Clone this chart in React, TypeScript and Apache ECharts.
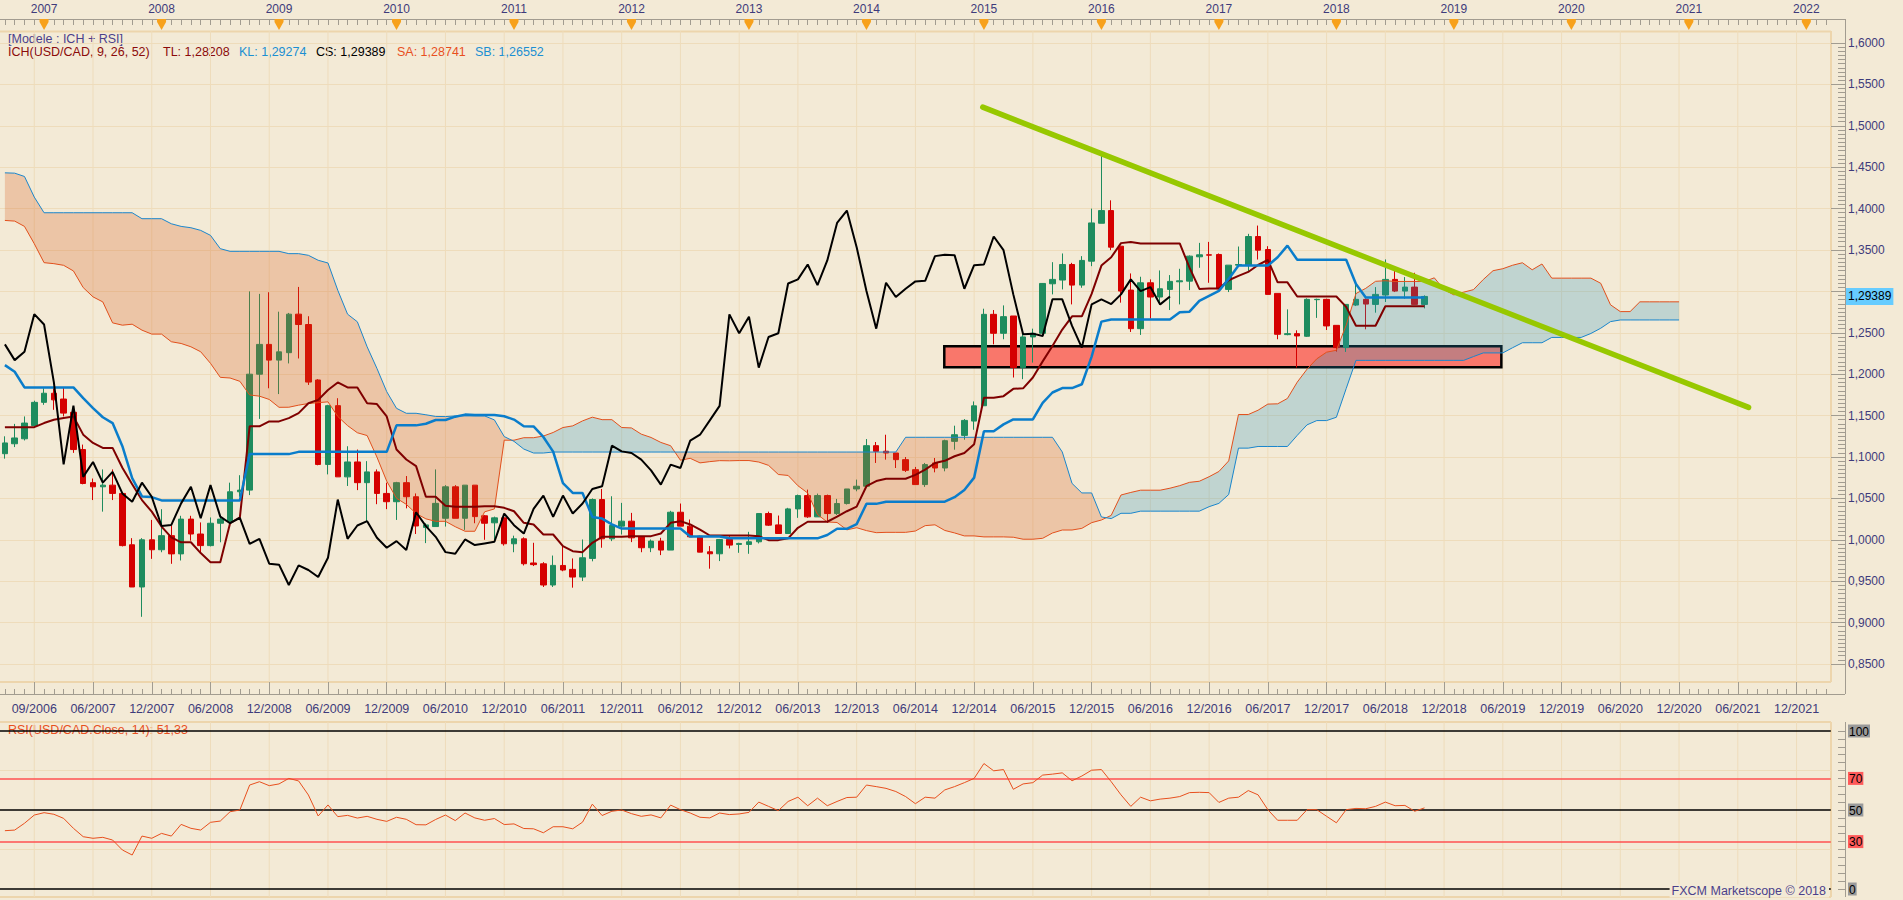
import React, { useEffect, useRef } from "react";
import * as echarts from "echarts";

// month index 0 = 12/2006 ; first candle = 09/2006 (-3) ; axis runs to 03/2022 (183)
const FIRST_MONTH = -3;
const LAST_MONTH = 183;

const yearLabels = ["2007", "2008", "2009", "2010", "2011", "2012", "2013", "2014", "2015", "2016", "2017", "2018", "2019", "2020", "2021", "2022"];
const dateLabels = ["09/2006", "06/2007", "12/2007", "06/2008", "12/2008", "06/2009", "12/2009", "06/2010", "12/2010", "06/2011", "12/2011", "06/2012", "12/2012", "06/2013", "12/2013", "06/2014", "12/2014", "06/2015", "12/2015", "06/2016", "12/2016", "06/2017", "12/2017", "06/2018", "12/2018", "06/2019", "12/2019", "06/2020", "12/2020", "06/2021", "12/2021"];

const candleOpen = [
  1.104, 1.116, 1.122, 1.138, 1.166, 1.177, 1.170, 1.154, 1.109, 1.069,
  1.064, 1.066, 1.056, 0.994, 0.943, 1.000, 0.988, 1.005, 0.983, 1.025,
  1.007, 0.993, 1.020, 1.022, 1.058, 1.060, 1.200, 1.236, 1.217, 1.226,
  1.2725, 1.260, 1.193, 1.091, 1.162, 1.076, 1.094, 1.069, 1.082, 1.056,
  1.046, 1.069, 1.052, 1.015, 1.016, 1.026, 1.064, 1.026, 1.066, 1.029,
  1.0205, 1.0265, 0.9952, 1.0012, 0.972, 0.971, 0.9454, 0.969, 0.9643, 0.955,
  0.9775, 1.0486, 1.0012, 1.0165, 1.0225, 1.0036, 0.9904, 0.9984, 0.9876, 1.0333,
  1.0165, 1.0044, 0.9855, 0.9831, 1.0004, 0.9944, 0.9944, 0.9976, 1.0317, 1.018,
  1.0076, 1.0373, 1.0534, 1.0277, 1.0534, 1.0317, 1.0438, 1.0614, 1.0647, 1.1137,
  1.107, 1.1048, 1.0968, 1.0847, 1.0667, 1.0928, 1.0867, 1.1189, 1.1261, 1.1434,
  1.1619, 1.2723, 1.2494, 1.2703, 1.2080, 1.2450, 1.2494, 1.3092, 1.3137, 1.3325,
  1.3076, 1.3365, 1.3823, 1.3976, 1.3546, 1.3016, 1.2550, 1.3104, 1.2932, 1.3024,
  1.3116, 1.3124, 1.3418, 1.3442, 1.3446, 1.3024, 1.3317, 1.3317, 1.3663, 1.3506,
  1.2976, 1.2478, 1.2490, 1.2458, 1.2900, 1.2904, 1.2590, 1.2321, 1.2835, 1.2904,
  1.2843, 1.2956, 1.3145, 1.3004, 1.3052, 1.2843
];
const candleClose = [
  1.117, 1.123, 1.141, 1.166, 1.177, 1.169, 1.153, 1.109, 1.068, 1.064,
  1.066, 1.056, 0.993, 0.943, 1.000, 0.988, 1.005, 0.983, 1.025, 1.007,
  0.993, 1.020, 1.025, 1.058, 1.060, 1.200, 1.236, 1.217, 1.227, 1.2725,
  1.260, 1.1905, 1.091, 1.162, 1.076, 1.094, 1.069, 1.082, 1.056, 1.046,
  1.069, 1.052, 1.0167, 1.018, 1.044, 1.064, 1.026, 1.066, 1.028, 1.020,
  1.0265, 0.9952, 1.0012, 0.9711, 0.970, 0.9454, 0.9691, 0.9635, 0.955, 0.9783,
  1.0486, 1.0012, 1.0173, 1.0225, 1.0024, 0.9904, 0.9984, 0.9876, 1.0333, 1.0165,
  1.0036, 0.9851, 0.9831, 1.0004, 0.9936, 0.9956, 0.9976, 1.0317, 1.0177, 1.0076,
  1.0373, 1.0534, 1.0277, 1.0534, 1.0317, 1.0438, 1.0614, 1.0647, 1.1137, 1.1068,
  1.1048, 1.0968, 1.0839, 1.0667, 1.0908, 1.0867, 1.1197, 1.1269, 1.1442, 1.1618,
  1.2723, 1.2494, 1.2695, 1.2080, 1.2450, 1.2494, 1.3096, 1.3145, 1.3325, 1.3076,
  1.3374, 1.3827, 1.3976, 1.3534, 1.3004, 1.2550, 1.3104, 1.2932, 1.3032, 1.3121,
  1.3128, 1.3426, 1.3442, 1.3438, 1.3032, 1.3317, 1.3325, 1.3663, 1.3498, 1.2964,
  1.2482, 1.2490, 1.2462, 1.2904, 1.2904, 1.2583, 1.2321, 1.2843, 1.2904, 1.2847,
  1.2964, 1.3145, 1.3004, 1.3052, 1.2843, 1.2939
];
const candleLow = [
  1.098, 1.112, 1.120, 1.136, 1.163, 1.157, 1.149, 1.105, 1.067, 1.048,
  1.034, 1.048, 0.992, 0.943, 0.907, 0.977, 0.985, 0.971, 0.975, 0.999,
  0.984, 0.992, 0.997, 1.022, 1.052, 1.054, 1.146, 1.183, 1.176, 1.213,
  1.219, 1.187, 1.090, 1.079, 1.076, 1.065, 1.060, 1.022, 1.043, 1.037,
  1.024, 1.038, 1.007, 0.996, 1.016, 1.016, 1.026, 1.012, 1.020, 1.000,
  0.999, 0.993, 0.985, 0.969, 0.9683, 0.943, 0.943, 0.962, 0.9422, 0.9502,
  0.974, 0.9904, 0.9984, 1.0064, 0.9972, 0.985, 0.9851, 0.9815, 0.9876, 1.0165,
  1.003, 0.985, 0.9651, 0.9743, 0.9896, 0.9843, 0.9831, 0.9956, 1.0168, 1.0076,
  1.0076, 1.0265, 1.0265, 1.0277, 1.0205, 1.030, 1.0426, 1.0586, 1.0647, 1.0928,
  1.0968, 1.0867, 1.0819, 1.0667, 1.0639, 1.0815, 1.0827, 1.1088, 1.1209, 1.1329,
  1.1619, 1.2361, 1.2422, 1.1960, 1.194, 1.214, 1.2482, 1.2964, 1.3024, 1.2843,
  1.3044, 1.3305, 1.3823, 1.3498, 1.2864, 1.2510, 1.2474, 1.2671, 1.2864, 1.2775,
  1.2843, 1.3016, 1.3285, 1.3104, 1.3024, 1.2992, 1.3317, 1.3245, 1.3385, 1.2964,
  1.2422, 1.2470, 1.2080, 1.2450, 1.2680, 1.2534, 1.2273, 1.2269, 1.2823, 1.2542,
  1.2743, 1.2872, 1.2992, 1.2912, 1.2843, 1.2795
];
const candleHigh = [
  1.125, 1.140, 1.149, 1.168, 1.183, 1.183, 1.184, 1.159, 1.115, 1.074,
  1.085, 1.085, 1.057, 1.002, 1.002, 1.024, 1.037, 1.017, 1.029, 1.029,
  1.021, 1.027, 1.030, 1.069, 1.078, 1.300, 1.297, 1.299, 1.2755, 1.274,
  1.3054, 1.270, 1.194, 1.163, 1.171, 1.113, 1.109, 1.095, 1.085, 1.069,
  1.070, 1.077, 1.056, 1.020, 1.085, 1.066, 1.066, 1.066, 1.066, 1.030,
  1.028, 1.031, 1.005, 1.003, 0.9964, 0.973, 0.981, 0.9924, 0.9775, 1.0004,
  1.050, 1.0614, 1.0526, 1.0446, 1.0325, 1.004, 1.0004, 1.0024, 1.035, 1.0438,
  1.0245, 1.005, 0.9924, 1.001, 1.0044, 0.9964, 1.0096, 1.032, 1.034, 1.0293,
  1.0386, 1.0546, 1.0606, 1.0558, 1.0546, 1.0494, 1.0614, 1.0727, 1.1217, 1.1181,
  1.1269, 1.1048, 1.100, 1.088, 1.0928, 1.0988, 1.1209, 1.1378, 1.1458, 1.1671,
  1.2791, 1.2775, 1.2831, 1.2703, 1.249, 1.255, 1.310, 1.3353, 1.3458, 1.3345,
  1.3426, 1.400, 1.4683, 1.410, 1.3546, 1.3217, 1.3177, 1.3145, 1.3253, 1.3197,
  1.3273, 1.3434, 1.3586, 1.3598, 1.3458, 1.3317, 1.3542, 1.3695, 1.3795, 1.3546,
  1.2976, 1.2783, 1.2530, 1.2916, 1.2912, 1.2912, 1.2590, 1.2843, 1.3092, 1.2916,
  1.3052, 1.3386, 1.3293, 1.3173, 1.3225, 1.2952
];

// Tenkan (TL) and Kijun (KL), one value per month from 09/2006
const tenkan = [
  1.136, 1.136, 1.136, 1.136, 1.141, 1.145, 1.147, 1.149, 1.127, 1.117,
  1.111, 1.111, 1.087, 1.067, 1.048, 1.034, 1.016, 1.003, 0.997, 0.997,
  0.984, 0.973, 0.973, 1.020, 1.027, 1.137, 1.137, 1.143, 1.143, 1.147,
  1.153, 1.165, 1.169, 1.181, 1.190, 1.184, 1.184, 1.165, 1.164, 1.149,
  1.109, 1.097, 1.089, 1.052, 1.052, 1.041, 1.040, 1.040, 1.040, 1.0406,
  1.0406, 1.0386, 1.0345, 1.0205, 1.0185, 1.0064, 1.0064, 0.9924, 0.9863, 0.9851,
  0.9964, 1.0036, 1.0036, 1.0036, 1.0044, 1.0044, 1.0044, 1.0076, 1.0205, 1.0225,
  1.0185, 1.0124, 1.0052, 1.0052, 1.0052, 1.0052, 1.0052, 1.0044, 0.9996, 0.9996,
  1.0018, 1.0145, 1.0218, 1.0218, 1.0218, 1.028, 1.0345, 1.040, 1.0647, 1.071,
  1.0737, 1.0737, 1.0737, 1.0785, 1.0848, 1.0928, 1.0954, 1.1009, 1.1049, 1.1155,
  1.1715, 1.1715, 1.1735, 1.1823, 1.1829, 1.196, 1.2155, 1.2341, 1.2539, 1.2699,
  1.2699, 1.297, 1.3312, 1.3412, 1.3583, 1.3597, 1.3579, 1.3579, 1.3579, 1.3579,
  1.3579, 1.3287, 1.303, 1.3036, 1.3036, 1.3135, 1.3187, 1.3235, 1.3319, 1.338,
  1.3109, 1.3109, 1.2938, 1.2938, 1.2938, 1.2938, 1.2938, 1.2813, 1.2586, 1.2586,
  1.2586, 1.2821, 1.2821, 1.2821, 1.2821, 1.2821
];
const kijun = [
  1.211, 1.203, 1.184, 1.184, 1.184, 1.184, 1.184, 1.184, 1.171, 1.159,
  1.148, 1.141, 1.113, 1.0745, 1.0524, 1.0516, 1.0476, 1.0476, 1.0476, 1.0476,
  1.0476, 1.0476, 1.0476, 1.0476, 1.0476, 1.1035, 1.1035, 1.1035, 1.1035, 1.1035,
  1.1062, 1.1062, 1.1062, 1.1062, 1.1062, 1.1062, 1.1062, 1.1062, 1.1062, 1.1062,
  1.1382, 1.1382, 1.1382, 1.1402, 1.1447, 1.1447, 1.1487, 1.1512, 1.1507, 1.1507,
  1.1507, 1.1492, 1.1452, 1.1372, 1.1369, 1.1242, 1.1065, 1.0685, 1.0566, 1.0566,
  1.0276, 1.0256, 1.0186, 1.0136, 1.0136, 1.0136, 1.0136, 1.0136, 1.0136, 1.0136,
  1.0041, 1.0041, 1.0041, 1.0041, 1.0018, 1.0018, 1.0018, 1.0018, 1.0018, 1.0018,
  1.0018, 1.0018, 1.0018, 1.0018, 1.0058, 1.0133, 1.0133, 1.0189, 1.0434, 1.0434,
  1.046, 1.046, 1.046, 1.046, 1.046, 1.046, 1.046, 1.0515, 1.0601, 1.0751,
  1.1311, 1.1311, 1.1394, 1.1454, 1.1454, 1.1454, 1.1653, 1.1779, 1.1832, 1.1832,
  1.1879, 1.2213, 1.2635, 1.2661, 1.2661, 1.2661, 1.2661, 1.2661, 1.2661, 1.2661,
  1.2749, 1.2755, 1.2886, 1.2946, 1.3006, 1.3151, 1.3312, 1.3312, 1.3312, 1.3312,
  1.3412, 1.3553, 1.3382, 1.3382, 1.3382, 1.3382, 1.3382, 1.3382, 1.309, 1.2927,
  1.2927, 1.2927, 1.2927, 1.2927, 1.2927, 1.2927
];

// Senkou span A / B, one value per month from 09/2006 to 12/2020
const spanA = [
  1.3857, 1.3849, 1.3785, 1.3576, 1.3347, 1.3335, 1.3315, 1.3247, 1.3046, 1.2934,
  1.2873, 1.262, 1.2592, 1.2604, 1.2532, 1.2484, 1.2484, 1.2392, 1.2371, 1.2331,
  1.2271, 1.2131, 1.1962, 1.1954, 1.1914, 1.1749, 1.1735, 1.1695, 1.160, 1.1601,
  1.1626, 1.1646, 1.1656, 1.1666, 1.149, 1.1379, 1.1293, 1.1259, 1.0999, 1.0708,
  1.0502, 1.0428, 1.0318, 1.0253, 1.0223, 1.0223, 1.0158, 1.0103, 1.0103, 1.0338,
  1.0373, 1.1203, 1.1203, 1.1233, 1.1233, 1.1253, 1.1296, 1.1356, 1.1376, 1.1436,
  1.1481, 1.1451, 1.1451, 1.1356, 1.1351, 1.1276, 1.1236, 1.1176, 1.1136, 1.0961,
  1.0984, 1.0929, 1.0944, 1.0956, 1.0954, 1.0957, 1.0957, 1.0939, 1.0899, 1.0789,
  1.0777, 1.0653, 1.0565, 1.0305, 1.0215, 1.0209, 1.012, 1.0146, 1.0111, 1.0086,
  1.009, 1.009, 1.009, 1.0106, 1.0171, 1.0181, 1.0113, 1.0083, 1.0047, 1.0047,
  1.0035, 1.0035, 1.0035, 1.0031, 1.0007, 1.0007, 1.0018, 1.0082, 1.0118, 1.0118,
  1.0138, 1.0207, 1.0239, 1.0295, 1.0541, 1.0572, 1.0599, 1.0599, 1.0599, 1.0623,
  1.0654, 1.0694, 1.0707, 1.0762, 1.0825, 1.0953, 1.1513, 1.1513, 1.1565, 1.1639,
  1.1642, 1.1707, 1.1904, 1.206, 1.2186, 1.2266, 1.2289, 1.2592, 1.2974, 1.3037,
  1.3122, 1.3129, 1.312, 1.312, 1.312, 1.312, 1.3164, 1.3021, 1.2958, 1.2991,
  1.3021, 1.3143, 1.325, 1.3274, 1.3316, 1.3346, 1.3261, 1.3331, 1.316, 1.316,
  1.316, 1.316, 1.316, 1.3098, 1.2838, 1.2756, 1.2756, 1.2874, 1.2874, 1.2874,
  1.2874, 1.2874
];
const spanB = [
  1.4432, 1.4428, 1.4388, 1.4139, 1.395, 1.395, 1.395, 1.395, 1.395, 1.395,
  1.395, 1.395, 1.395, 1.395, 1.3878, 1.3878, 1.3878, 1.3817, 1.3785, 1.3769,
  1.3737, 1.3677, 1.3516, 1.3484, 1.3484, 1.3484, 1.3484, 1.3484, 1.3484, 1.3456,
  1.3456, 1.3436, 1.3376, 1.3343, 1.3014, 1.2725, 1.2633, 1.2331, 1.207, 1.1789,
  1.1588, 1.1528, 1.1528, 1.151, 1.149, 1.1488, 1.1496, 1.1496, 1.1496, 1.1496,
  1.1448, 1.1247, 1.1189, 1.1096, 1.1048, 1.1048, 1.106, 1.106, 1.106, 1.106,
  1.106, 1.106, 1.106, 1.106, 1.106, 1.106, 1.106, 1.106, 1.106, 1.106,
  1.106, 1.106, 1.106, 1.106, 1.106, 1.106, 1.106, 1.106, 1.106, 1.106,
  1.106, 1.106, 1.106, 1.106, 1.106, 1.106, 1.106, 1.106, 1.106, 1.106,
  1.106, 1.106, 1.1238, 1.1238, 1.1238, 1.1238, 1.1238, 1.1238, 1.1238, 1.1238,
  1.1238, 1.1238, 1.1238, 1.1238, 1.1238, 1.1238, 1.1238, 1.1238, 1.1061, 1.0681,
  1.0566, 1.0566, 1.0276, 1.0256, 1.032, 1.032, 1.0346, 1.0346, 1.0346, 1.0346,
  1.0346, 1.0346, 1.0346, 1.040, 1.044, 1.0547, 1.1107, 1.1107, 1.1127, 1.1127,
  1.1127, 1.1127, 1.1261, 1.1388, 1.144, 1.144, 1.148, 1.1826, 1.2167, 1.2167,
  1.2167, 1.2167, 1.2167, 1.2167, 1.2167, 1.2167, 1.2167, 1.2167, 1.2167, 1.2167,
  1.2213, 1.2257, 1.2257, 1.2257, 1.232, 1.238, 1.238, 1.238, 1.2444, 1.2444,
  1.2444, 1.2444, 1.2492, 1.2555, 1.2635, 1.2655, 1.2655, 1.2655, 1.2655, 1.2655,
  1.2655, 1.2655
];

const rsiValues = [
  36.9, 37.3, 41.6, 46.8, 48.3, 47.3, 44.7, 38.4, 33.1, 32.1,
  32.7, 31.0, 24.7, 21.5, 33.5, 32.1, 35.2, 33.5, 40.9, 38.4,
  37.3, 42.2, 43.0, 48.9, 50.0, 65.8, 67.9, 65.4, 66.5, 70.0,
  68.4, 59.5, 46.2, 53.2, 45.8, 46.6, 44.9, 46.0, 44.1, 42.8,
  45.4, 44.1, 40.7, 40.6, 44.0, 46.8, 43.3, 48.1, 45.0, 43.5,
  44.6, 40.8, 41.2, 38.3, 38.1, 35.6, 39.4, 39.4, 38.1, 42.3,
  53.7, 46.5, 49.2, 50.0, 47.7, 46.0, 46.9, 45.0, 53.1, 50.2,
  48.1, 45.4, 45.0, 48.1, 47.1, 47.5, 48.5, 55.0, 52.3, 49.6,
  55.4, 58.1, 52.7, 57.5, 52.7, 55.4, 57.9, 58.1, 65.8, 64.8,
  63.7, 61.7, 58.5, 54.0, 58.1, 57.5, 62.7, 64.8, 67.3, 70.0,
  79.4, 74.8, 75.6, 63.1, 66.5, 67.3, 72.1, 72.7, 73.5, 68.5,
  71.5, 75.2, 75.6, 67.9, 59.6, 52.3, 58.1, 55.8, 56.9, 57.5,
  58.5, 61.0, 61.2, 61.0, 54.8, 57.5, 58.1, 62.3, 59.6, 50.2,
  43.5, 43.5, 43.5, 50.2, 50.2, 46.0, 41.9, 50.2, 51.0, 50.8,
  52.3, 55.0, 52.7, 52.9, 49.2, 51.33
];

const CHIKOU_SHIFT = 26;
const LAST_CLOSE = 1.29389;
// hand-drawn annotations (month index, price)
const trendLine = [[96.88, 1.5225], [175.1, 1.1599]];
const supportZone = [[92.95, 1.2084, 149.85, 1.2337]];
const rsiLevels = [100, 70, 50, 30, 0];

// ---------- styling ----------
const FONT = '"Liberation Sans", Arial, sans-serif';
const BG = "#F3EAD6";
const GRID = "#EEDCBB";
const FRAME = "#EDD5AC";
const AXIS = "#A29C90";
const LABEL = "#3E3B7B";
const UP = "#1E8C5E";
const DOWN = "#D50000";
const BULL_CLOUD = "rgba(39,146,190,0.25)";
const BEAR_CLOUD = "rgba(215,86,22,0.25)";

const GRID_LEFT = -7.4;
const GRID_WIDTH = 1838.2;
const PRICE_PANEL = [31, 682];
const RSI_PANEL = [722, 897];

export default function App() {
  const ref = useRef<HTMLDivElement>(null);

  useEffect(() => {
    if (!ref.current) return;
    const chart = echarts.init(ref.current, null, { renderer: "svg" });

    const categories = [];
    for (let m = FIRST_MONTH; m <= LAST_MONTH; m++) categories.push(String(m));
    const monthOf = (i: number) => i + FIRST_MONTH;
    const isHalfYear = (i: number) => {
      const m = monthOf(i);
      return m >= 0 && m % 6 === 0 && m / 6 < dateLabels.length;
    };
    const isJanuary = (i: number) => {
      const m = monthOf(i);
      return m >= 1 && (m - 1) % 12 === 0 && (m - 1) / 12 < yearLabels.length;
    };

    const candles = candleOpen.map((o, k) => [o, candleClose[k], candleLow[k], candleHigh[k]]);
    const toPts = (arr: number[]) => arr.map((v, k) => [k + FIRST_MONTH, v]);
    const chikou = candleClose.slice(CHIKOU_SHIFT).map((v, k) => [k + FIRST_MONTH, v]);
    const gridMonths = dateLabels.map((_, j) => [j * 6]);
    const janMonths = yearLabels.map((_, j) => [1 + j * 12]);

    const cloudRender = (params: any, api: any) => {
      const polys: any[] = [];
      let top: number[][] = [];
      let bot: number[][] = [];
      let bull: boolean | null = null;
      for (let k = 0; k < spanA.length; k++) {
        const m = k + FIRST_MONTH;
        const a = spanA[k];
        const b = spanB[k];
        const isBull = a >= b;
        if (bull !== null && isBull !== bull) {
          const pa = spanA[k - 1];
          const pb = spanB[k - 1];
          const d0 = pa - pb;
          const d1 = a - b;
          const t = d0 / (d0 - d1);
          const cx = m - 1 + t;
          const cy = pa + t * (a - pa);
          top.push([cx, cy]);
          bot.push([cx, cy]);
          polys.push({ pts: top.concat(bot.slice().reverse()), bull });
          top = [[cx, cy]];
          bot = [[cx, cy]];
        }
        bull = isBull;
        top.push([m, a]);
        bot.push([m, b]);
      }
      polys.push({ pts: top.concat(bot.slice().reverse()), bull });
      return {
        type: "group",
        children: polys.map((p) => ({
          type: "polygon",
          shape: { points: p.pts.map((q: number[]) => api.coord(q)) },
          style: { fill: p.bull ? BULL_CLOUD : BEAR_CLOUD },
        })),
      };
    };

    const vGrid = (yRef: number, panel: number[]) => (params: any, api: any) => {
      const x = api.coord([api.value(0), yRef])[0];
      return {
        type: "line",
        shape: { x1: x, y1: panel[0], x2: x, y2: panel[1] },
        style: { stroke: GRID, lineWidth: 1 },
      };
    };

    const hLine = (x1: number, y: number, x2: number, color: string, w: number) => ({
      type: "line", silent: true, shape: { x1, y1: y, x2, y2: y }, style: { stroke: color, lineWidth: w },
    });
    const vLine = (x: number, y1: number, y2: number, color: string, w: number) => ({
      type: "line", silent: true, shape: { x1: x, y1, x2: x, y2 }, style: { stroke: color, lineWidth: w },
    });
    const txt = (x: number, y: number, text: string, fill: string, extra: any = {}) => ({
      type: "text", silent: true, x, y, z: extra.z ?? 0,
      style: { text, fill, font: `${extra.size ?? 12.5}px ${FONT}`, verticalAlign: "middle", align: extra.align ?? "left", backgroundColor: extra.bg, padding: extra.pad },
    });

    const option: any = {
      animation: false,
      backgroundColor: BG,
      textStyle: { fontFamily: FONT },
      grid: [
        { left: GRID_LEFT, top: 43, width: GRID_WIDTH, height: 621 },
        { left: GRID_LEFT, top: 731, width: GRID_WIDTH, height: 158 },
      ],
      xAxis: [
        {
          type: "category", gridIndex: 0, data: categories, position: "bottom", offset: 30,
          axisLine: { show: false, onZero: false },
          axisTick: { show: true, inside: true, length: 12, alignWithLabel: true, interval: (i: number) => isHalfYear(i), lineStyle: { color: AXIS } },
          axisLabel: { show: true, interval: (i: number) => isHalfYear(i), formatter: (v: string) => dateLabels[Number(v) / 6] ?? "", margin: 8, color: LABEL, fontSize: 12.5, fontFamily: FONT },
          splitLine: { show: false },
        },
        {
          type: "category", gridIndex: 0, data: categories, position: "bottom", offset: 30,
          axisLine: { show: false, onZero: false },
          axisTick: { show: true, inside: true, length: 5, alignWithLabel: true, interval: 0, lineStyle: { color: AXIS } },
          axisLabel: { show: false }, splitLine: { show: false },
        },
        {
          type: "category", gridIndex: 0, data: categories, position: "top", offset: 24,
          axisLine: { show: false, onZero: false },
          axisTick: { show: true, inside: true, length: 6, alignWithLabel: true, interval: 0, lineStyle: { color: AXIS } },
          axisLabel: { show: true, interval: (i: number) => isJanuary(i), formatter: (v: string) => yearLabels[(Number(v) - 1) / 12] ?? "", margin: 4, color: LABEL, fontSize: 12, fontFamily: FONT },
          splitLine: { show: false },
        },
        { type: "value", gridIndex: 0, min: FIRST_MONTH - 0.5, max: LAST_MONTH + 0.5, show: false, axisLine: { onZero: false }, splitLine: { show: false } },
        { type: "value", gridIndex: 1, min: FIRST_MONTH - 0.5, max: LAST_MONTH + 0.5, show: false, axisLine: { onZero: false }, splitLine: { show: false } },
      ],
      yAxis: [
        {
          type: "value", gridIndex: 0, position: "right", offset: 14.2, min: 0.85, max: 1.6, interval: 0.05,
          axisLine: { show: false, onZero: false },
          axisTick: { show: true, inside: true, length: 14, lineStyle: { color: AXIS } },
          minorTick: { show: true, splitNumber: 10, length: 7, lineStyle: { color: AXIS } },
          axisLabel: {
            margin: 3, color: LABEL, fontSize: 12, fontFamily: FONT,
            // the last-price box hides the level it sits on
            formatter: (v: number) => (Math.abs(v - LAST_CLOSE) < 0.012 ? "" : v.toFixed(4).replace(".", ",")),
          },
          splitLine: { show: true, lineStyle: { color: GRID, width: 1 } },
          minorSplitLine: { show: false },
        },
        {
          type: "value", gridIndex: 1, position: "right", offset: 14.2, min: 0, max: 100, interval: 5,
          axisLine: { show: false, onZero: false },
          axisTick: { show: true, inside: true, length: 7, lineStyle: { color: AXIS } },
          axisLabel: {
            margin: 3, fontSize: 12, fontFamily: FONT,
            formatter: (v: number) => {
              if (!rsiLevels.includes(v)) return "";
              return v === 70 || v === 30 ? `{r|${v}}` : `{g|${v}}`;
            },
            rich: {
              g: { backgroundColor: "#9A9A9A", color: "#000", fontSize: 12, fontFamily: FONT, padding: [1, 1, 0, 1] },
              r: { backgroundColor: "#FF5A5A", color: "#000", fontSize: 12, fontFamily: FONT, padding: [1, 1, 0, 1] },
            },
          },
          splitLine: { show: false },
        },
      ],
      series: [
        { type: "custom", name: "vgrid-price", xAxisIndex: 3, yAxisIndex: 0, z: 1, silent: true, data: gridMonths, renderItem: vGrid(1.2, PRICE_PANEL) },
        { type: "custom", name: "vgrid-rsi", xAxisIndex: 4, yAxisIndex: 1, z: 1, silent: true, data: gridMonths, renderItem: vGrid(50, RSI_PANEL) },
        {
          type: "custom", name: "zone", xAxisIndex: 3, yAxisIndex: 0, z: 2, silent: true, data: supportZone,
          renderItem: (params: any, api: any) => {
            const p1 = api.coord([api.value(0), api.value(3)]);
            const p2 = api.coord([api.value(2), api.value(1)]);
            return { type: "rect", shape: { x: p1[0], y: p1[1], width: p2[0] - p1[0], height: p2[1] - p1[1] }, style: { fill: "#F9776B", stroke: "#000", lineWidth: 2.5 } };
          },
        },
        {
          type: "candlestick", name: "USD/CAD", xAxisIndex: 0, yAxisIndex: 0, z: 3, barWidth: 6, data: candles,
          itemStyle: { color: UP, color0: DOWN, borderColor: UP, borderColor0: DOWN, borderWidth: 1 },
        },
        { type: "custom", name: "cloud", xAxisIndex: 3, yAxisIndex: 0, z: 4, silent: true, data: [[0, 1.2]], renderItem: cloudRender },
        { type: "line", name: "SA", xAxisIndex: 3, yAxisIndex: 0, z: 5, data: toPts(spanA), symbol: "none", lineStyle: { color: "#E2501C", width: 1 } },
        { type: "line", name: "SB", xAxisIndex: 3, yAxisIndex: 0, z: 5, data: toPts(spanB), symbol: "none", lineStyle: { color: "#1A86CC", width: 1 } },
        { type: "line", name: "TL", xAxisIndex: 3, yAxisIndex: 0, z: 6, data: toPts(tenkan), symbol: "none", lineStyle: { color: "#7F0000", width: 2 } },
        { type: "line", name: "KL", xAxisIndex: 3, yAxisIndex: 0, z: 6, data: toPts(kijun), symbol: "none", lineStyle: { color: "#0A7DCB", width: 2.5 } },
        { type: "line", name: "CS", xAxisIndex: 3, yAxisIndex: 0, z: 6, data: chikou, symbol: "none", lineStyle: { color: "#000", width: 2 } },
        { type: "line", name: "trend", xAxisIndex: 3, yAxisIndex: 0, z: 7, data: trendLine, symbol: "none", lineStyle: { color: "#97C800", width: 5.5, cap: "round" } },
        {
          type: "custom", name: "years", xAxisIndex: 3, yAxisIndex: 0, z: 7, silent: true, data: janMonths,
          renderItem: (params: any, api: any) => {
            const x = api.coord([api.value(0), 1.2])[0];
            return { type: "polygon", shape: { points: [[x - 4.5, 19], [x + 4.5, 19], [x + 4.5, 22], [x, 30], [x - 4.5, 22]] }, style: { fill: "#F7A11C" } };
          },
        },
        {
          type: "custom", name: "last", xAxisIndex: 3, yAxisIndex: 0, z: 8, silent: true, data: [[LAST_MONTH, LAST_CLOSE]],
          renderItem: (params: any, api: any) => {
            const y = api.coord([api.value(0), api.value(1)])[1];
            return {
              type: "text", x: 1846, y,
              style: { text: LAST_CLOSE.toFixed(5).replace(".", ","), fill: "#000", font: `12px ${FONT}`, verticalAlign: "middle", backgroundColor: "#66CCFF", padding: [3, 2, 2, 2] },
            };
          },
        },
        {
          type: "line", name: "RSI", xAxisIndex: 4, yAxisIndex: 1, z: 5, clip: false, data: toPts(rsiValues), symbol: "none",
          lineStyle: { color: "#E8501E", width: 1 },
          markLine: {
            silent: true, symbol: ["none", "none"], label: { show: false },
            data: [
              { yAxis: 75, lineStyle: { color: GRID, width: 1, type: "solid" } },
              { yAxis: 25, lineStyle: { color: GRID, width: 1, type: "solid" } },
              { yAxis: 100, lineStyle: { color: "#000", width: 1.5, type: "solid" } },
              { yAxis: 70, lineStyle: { color: "#FF5050", width: 1.5, type: "solid" } },
              { yAxis: 50, lineStyle: { color: "#000", width: 1.5, type: "solid" } },
              { yAxis: 30, lineStyle: { color: "#FF5050", width: 1.5, type: "solid" } },
              { yAxis: 0, lineStyle: { color: "#000", width: 1.5, type: "solid" } },
            ],
          },
        },
      ],
      graphic: [
        hLine(0, 31.5, 1831, FRAME, 2),
        vLine(1831, 31, 682, FRAME, 2),
        hLine(0, 682, 1831, FRAME, 2),
        hLine(0, 722, 1831, FRAME, 2),
        vLine(1831, 722, 897, FRAME, 2),
        hLine(0, 897, 1831, FRAME, 2),
        hLine(0, 19.5, 1845, AXIS, 1),
        vLine(1845.5, 19, 694, AXIS, 1),
        hLine(0, 694.5, 1845, AXIS, 1),
        vLine(1845.5, 722, 897, AXIS, 1),
        txt(8, 39, "[Modele : ICH + RSI]", "#4B3F8B"),
        txt(8, 52, "ICH(USD/CAD, 9, 26, 52)", "#8B0A0A"),
        txt(163, 52, "TL: 1,28208", "#8B0A0A"),
        txt(239, 52, "KL: 1,29274", "#1B8FD2"),
        txt(316, 52, "CS: 1,29389", "#000000"),
        txt(397, 52, "SA: 1,28741", "#E8501E"),
        txt(475, 52, "SB: 1,26552", "#1B8FD2"),
        txt(8, 730, "RSI(USD/CAD.Close, 14): 51,33", "#E8501E"),
        txt(1829, 891, "FXCM Marketscope \u00A9 2018", "#4B3F8B", { align: "right", bg: BG, pad: [0, 3, 0, 2], z: 100, size: 12.5 }),
      ],
    };

    chart.setOption(option);
    return () => chart.dispose();
  }, []);

  return <div ref={ref} style={{ position: "absolute", left: 0, top: 0, width: 1903, height: 900 }} />;
}
